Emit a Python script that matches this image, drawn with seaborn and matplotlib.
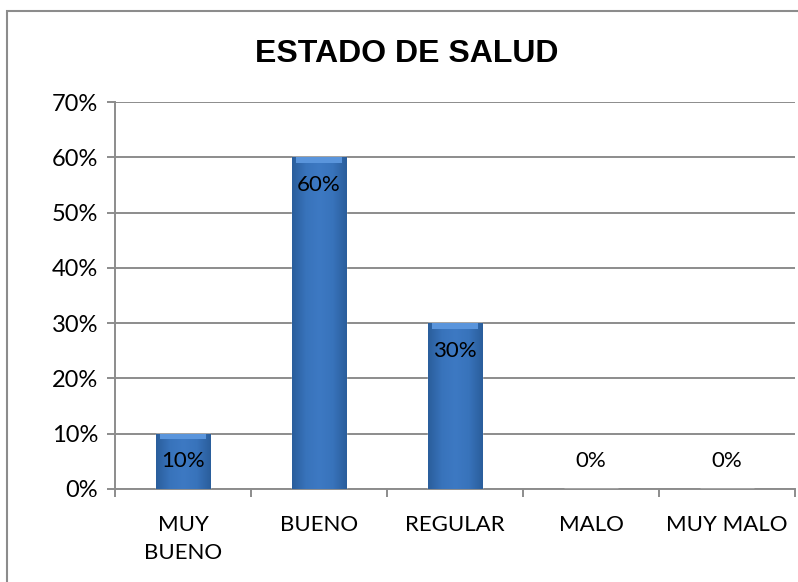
import numpy as np
import pandas as pd
import seaborn as sns
import matplotlib.pyplot as plt
from matplotlib.patches import Rectangle
from matplotlib.colors import LinearSegmentedColormap

# --- data ---
categorias = ["MUY\nBUENO", "BUENO", "REGULAR", "MALO", "MUY MALO"]
porcentajes = [0.10, 0.60, 0.30, 0.0, 0.0]
etiquetas = ["10%", "60%", "30%", "0%", "0%"]
yticks = [0.0, 0.1, 0.2, 0.3, 0.4, 0.5, 0.6, 0.7]

sns.set_theme(style="white")
plt.rcParams["font.family"] = ["Lato", "DejaVu Sans"]
plt.rcParams["text.color"] = "black"
plt.rcParams["xtick.color"] = "black"
plt.rcParams["ytick.color"] = "black"

df = pd.DataFrame({"estado": categorias, "valor": porcentajes})

fig = plt.figure(figsize=(7.98, 5.82), dpi=100)
ax = fig.add_axes([0.1441, 0.1598, 0.8521, 0.6649])

sns.barplot(data=df, x="estado", y="valor", color="#3a73bd", width=0.4,
            saturation=1, ax=ax, zorder=3)

# --- bevel-like shading on each bar ---
shade = LinearSegmentedColormap.from_list(
    "bevel", ["#2a5e9c", "#3873bb", "#3d79c3", "#3873bb", "#2a5e9c"])
grad = np.linspace(0, 1, 64).reshape(1, -1)
for p in ax.patches:
    if p.get_height() <= 0:
        continue
    x0, y0 = p.get_x(), p.get_y()
    w, h = p.get_width(), p.get_height()
    im = ax.imshow(grad, cmap=shade, aspect="auto", zorder=3.5,
                   extent=[x0, x0 + w, y0, y0 + h], interpolation="bicubic")
    im.set_clip_path(p)
    top = Rectangle((x0 + w * 0.08, y0 + h - 0.01), w * 0.84, 0.01,
                    facecolor="#5a95dc", edgecolor="none", zorder=3.6)
    ax.add_patch(top)
    top.set_clip_path(p)

ax.set_xlim(-0.5, 4.5)
ax.set_ylim(0, 0.7)
ax.set_yticks(yticks)
ax.set_yticklabels([f"{int(round(v * 100))}%" for v in yticks])

# value labels: inside the bar top, above the baseline for zero values
for i, (v, t) in enumerate(zip(porcentajes, etiquetas)):
    off = -20 if v > 0 else 20
    ax.annotate(t, (i, v), xytext=(0, off), textcoords="offset points",
                ha="center", va="center", fontsize=16, color="black", zorder=5)

# gridlines and axes in Excel grey
ax.grid(axis="y", color="#8c8c8c", linewidth=1.4, zorder=0)
ax.set_axisbelow(True)
for s in ["top", "right"]:
    ax.spines[s].set_visible(False)
ax.spines["left"].set_color("#8c8c8c")
ax.spines["bottom"].set_color("#8c8c8c")
ax.spines["left"].set_linewidth(1.4)
ax.spines["bottom"].set_linewidth(1.4)

ax.tick_params(axis="y", which="major", left=True, length=6, width=1.4,
               color="#8c8c8c", labelsize=17, labelcolor="black", pad=6)
ax.tick_params(axis="x", which="major", bottom=False, labelsize=16,
               labelcolor="black", pad=13)
ax.set_xticks(np.arange(-0.5, 5.0, 1.0), minor=True)
ax.tick_params(axis="x", which="minor", bottom=True, length=6, width=1.4,
               color="#8c8c8c", direction="out")
for lab in ax.get_xticklabels():
    lab.set_linespacing(1.5)
    lab.set_va("top")
ax.set_xlabel("")
ax.set_ylabel("")

fig.suptitle("ESTADO DE SALUD", x=0.51, y=0.907, va="center", color="black",
             fontsize=23, fontweight="bold", family="Liberation Sans")

# outer chart frame
fig.patches.append(Rectangle((7 / 798, -0.1), 1.2, 1.1 - 11 / 582,
                             transform=fig.transFigure, fill=False,
                             edgecolor="#8c8c8c", linewidth=1.5))

fig.savefig("out.png", dpi=100)
